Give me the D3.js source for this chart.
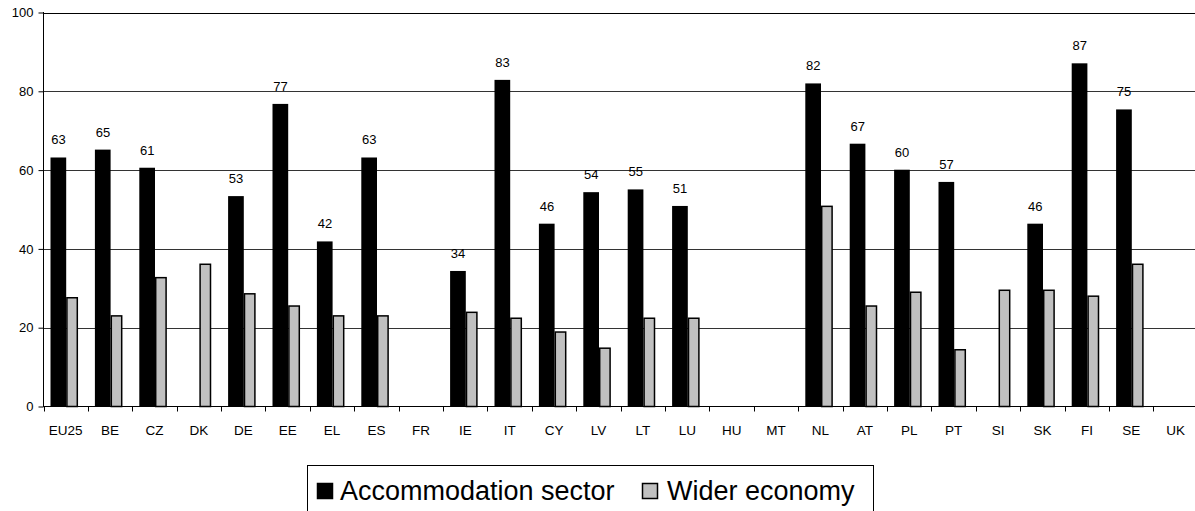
<!DOCTYPE html>
<html>
<head>
<meta charset="utf-8">
<script src="https://cdn.jsdelivr.net/npm/d3@7/dist/d3.min.js"></script>
<style>
html,body{margin:0;padding:0;background:#fff;}
svg{display:block;font-family:"Liberation Sans",Arial,sans-serif;}
</style>
</head>
<body>
<svg id="chart" width="1195" height="511"></svg>
<script>
const categories = ["EU25","BE","CZ","DK","DE","EE","EL","ES","FR","IE","IT","CY","LV","LT","LU","HU","MT","NL","AT","PL","PT","SI","SK","FI","SE","UK"];
const accommodation = [63.2,65.2,60.6,null,53.4,76.8,41.9,63.2,null,34.4,82.9,46.4,54.4,55.1,50.9,null,null,82.0,66.7,60.1,57.0,null,46.4,87.1,75.4,null];
const wider = [27.6,23.0,32.7,36.1,28.6,25.5,23.0,23.0,null,23.9,22.4,18.9,14.8,22.4,22.4,null,null,50.8,25.5,29.0,14.4,29.5,29.5,28.0,36.1,null];
const yTicks = [0,20,40,60,80,100];
const seriesNames = ["Accommodation sector","Wider economy"];

const svg = d3.select("#chart");
const left = 43.5, band = 44.4;
const x = d3.scaleBand().domain(categories).range([left, left + band*categories.length]).padding(0);
const y = d3.scaleLinear().domain([0,100]).range([406.5, 12.5]);

// gridlines
svg.append("g").selectAll("line").data(yTicks.filter(d=>d>0)).join("line")
  .attr("x1", left).attr("x2", 1195)
  .attr("y1", d=>Math.round(y(d))+0.5).attr("y2", d=>Math.round(y(d))+0.5)
  .attr("stroke", d=> d===100 ? "#000" : "#333").attr("stroke-width",1);

// y axis
const yAxis = d3.axisLeft(y).tickValues(yTicks).tickSize(5).tickPadding(5);
const gy = svg.append("g").attr("transform",`translate(${left},0)`).call(yAxis);
gy.select(".domain").remove();
gy.selectAll("text").attr("font-size",13).attr("font-family","Liberation Sans, Arial, sans-serif").attr("fill","#000");
gy.selectAll("line").attr("stroke","#000");
svg.append("line").attr("x1",left).attr("x2",left).attr("y1",12).attr("y2",407).attr("stroke","#000");

// bars
const gb = svg.append("g");
categories.forEach((c,i)=>{
  const b0 = x(c);
  const a = accommodation[i];
  if (a !== null) {
    gb.append("rect").attr("x", b0+7).attr("width", 15.7)
      .attr("y", y(a)).attr("height", y(0)-y(a)).attr("fill","#000");
    gb.append("text").attr("x", b0+15).attr("y", y(a)-13)
      .attr("text-anchor","middle").attr("font-size",13).attr("fill","#000")
      .text(d3.format(".0f")(a));
  }
  const w = wider[i];
  if (w !== null) {
    gb.append("rect").attr("x", b0+23.4).attr("width", 10.4)
      .attr("y", y(w)).attr("height", y(0)-y(w)).attr("fill","#c0c0c0")
      .attr("stroke","#000").attr("stroke-width",1.5);
  }
});

// x axis
svg.append("line").attr("x1",left).attr("x2",1195).attr("y1",406.5).attr("y2",406.5).attr("stroke","#000");
const gx = svg.append("g");
categories.forEach(c=>{
  const xt = Math.round(x(c))+0.5;
  gx.append("line").attr("x1",xt).attr("x2",xt).attr("y1",406).attr("y2",411.5).attr("stroke","#000");
  gx.append("text").attr("x", x(c)+band/2).attr("y",435)
    .attr("text-anchor","middle").attr("font-size",13.5).attr("fill","#000").text(c);
});

// legend
const lg = svg.append("g");
lg.append("rect").attr("x",307.5).attr("y",465.5).attr("width",566).attr("height",60)
  .attr("fill","#fff").attr("stroke","#000").attr("stroke-width",1);
const items = [
  {name: seriesNames[0], fill:"#000", mx:317.5, tx:340},
  {name: seriesNames[1], fill:"#c0c0c0", mx:642.5, tx:667}
];
items.forEach(it=>{
  lg.append("rect").attr("x",it.mx).attr("y",483.5).attr("width",15).attr("height",15)
    .attr("fill",it.fill).attr("stroke","#000").attr("stroke-width",1.5);
  lg.append("text").attr("x",it.tx).attr("y",500).attr("font-size",27).attr("fill","#000").text(it.name);
});
</script>
</body>
</html>
